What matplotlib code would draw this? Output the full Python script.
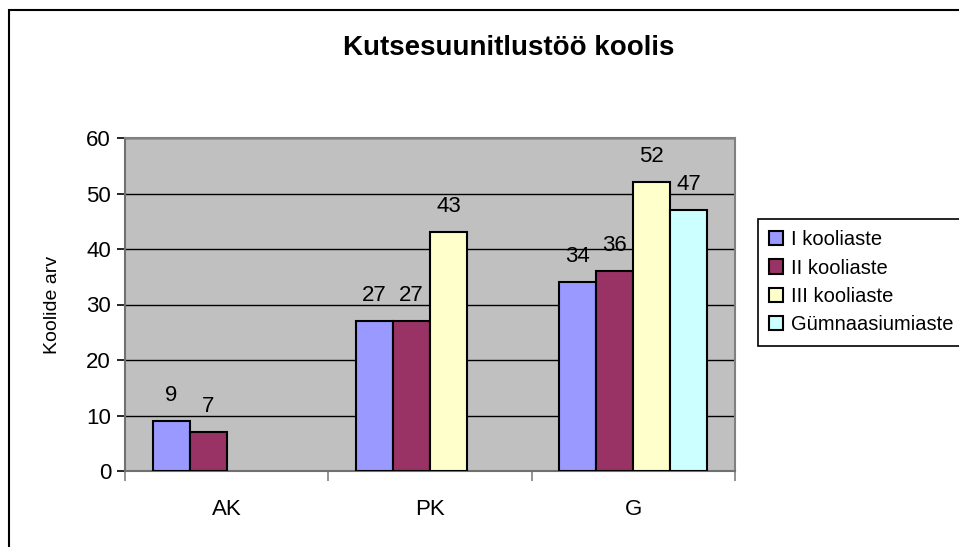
import numpy as np
import matplotlib
matplotlib.use("Agg")
import matplotlib.pyplot as plt
from matplotlib import font_manager
from matplotlib.patches import Rectangle

# data
categories = ["AK", "PK", "G"]
series_names = ["I kooliaste", "II kooliaste", "III kooliaste", "Gümnaasiumiaste"]
i_kooliaste = [9, 27, 34]
ii_kooliaste = [7, 27, 36]
iii_kooliaste = [None, 43, 52]
gymn_aste = [None, None, 47]
series_colors = ["#9999FF", "#993366", "#FFFFCC", "#CCFFFF"]


def pick_font():
    for name in ["Liberation Sans Narrow", "Liberation Sans", "DejaVu Sans"]:
        try:
            font_manager.findfont(name, fallback_to_default=False)
            return name
        except Exception:
            continue
    return "DejaVu Sans"


FONT = pick_font()
plt.rcParams["font.family"] = [FONT, "DejaVu Sans"]

W, H = 959, 547
fig = plt.figure(figsize=(W / 100, H / 100), dpi=100)

# outer chart border (cropped on right and bottom in the original)
fig.patches.append(Rectangle((9 / W, -0.01), 1.0, 1 - 10 / H + 0.01,
                             transform=fig.transFigure, fill=False,
                             edgecolor="black", linewidth=1.5))

ax = fig.add_axes([125 / W, 1 - 471 / H, (735 - 125) / W, (471 - 138) / H])
ax.set_facecolor("#C0C0C0")

all_series = [i_kooliaste, ii_kooliaste, iii_kooliaste, gymn_aste]
n = len(all_series)
bar_w = 1 / 5.5
centers = np.arange(len(categories)) + 0.5
handles = []
for k, (vals, col, name) in enumerate(zip(all_series, series_colors, series_names)):
    xs = centers + (k - (n - 1) / 2) * bar_w
    for x, v in zip(xs, vals):
        if v is None:
            continue
        ax.bar(x, v, width=bar_w, color=col, edgecolor="black", linewidth=1.5, zorder=3)
        ax.annotate(str(v), (x, v), xytext=(0, 11), textcoords="offset points",
                    ha="center", va="bottom", fontsize=16)
    handles.append(Rectangle((0, 0), 1, 1, facecolor=col, edgecolor="black", linewidth=1.5))

ax.set_xlim(0, 3)
ax.set_ylim(0, 60)
ax.set_yticks(range(0, 61, 10))
ax.set_xticks([0, 1, 2, 3])
ax.set_xticklabels([])
ax.set_xticks(centers, minor=True)
ax.set_xticklabels(categories, minor=True)
ax.tick_params(axis="x", which="minor", length=0, pad=20, labelsize=16)
ax.tick_params(axis="x", which="major", length=7, color="#808080", width=1.2)
ax.tick_params(axis="y", length=6, width=1.2, labelsize=16, pad=4)
ax.yaxis.grid(True, color="black", linewidth=1.0, zorder=1)
ax.set_axisbelow(True)
for s in ["top", "right"]:
    ax.spines[s].set_color("#808080")
    ax.spines[s].set_linewidth(1.5)
for s in ["left", "bottom"]:
    ax.spines[s].set_color("#707070")
    ax.spines[s].set_linewidth(1.5)

ax.set_ylabel("Koolide arv", fontsize=14, labelpad=18)

fig.text(0.5 * (125 + 893) / W, 1 - 48 / H, "Kutsesuunitlustöö koolis",
         ha="center", va="center", fontsize=20, fontweight="bold")

leg = fig.legend(handles, series_names, loc="upper left",
                 bbox_to_anchor=(758 / W, 1 - 342 / H, 220 / W, (342 - 219) / H),
                 mode="expand", bbox_transform=fig.transFigure,
                 frameon=True, fancybox=False, edgecolor="black", framealpha=1,
                 fontsize=14.5, handlelength=0.7, handleheight=0.7, handletextpad=0.4,
                 labelspacing=0.47, borderpad=0.55, borderaxespad=0)
leg.get_frame().set_linewidth(1.2)

fig.savefig("out.png", dpi=100)
